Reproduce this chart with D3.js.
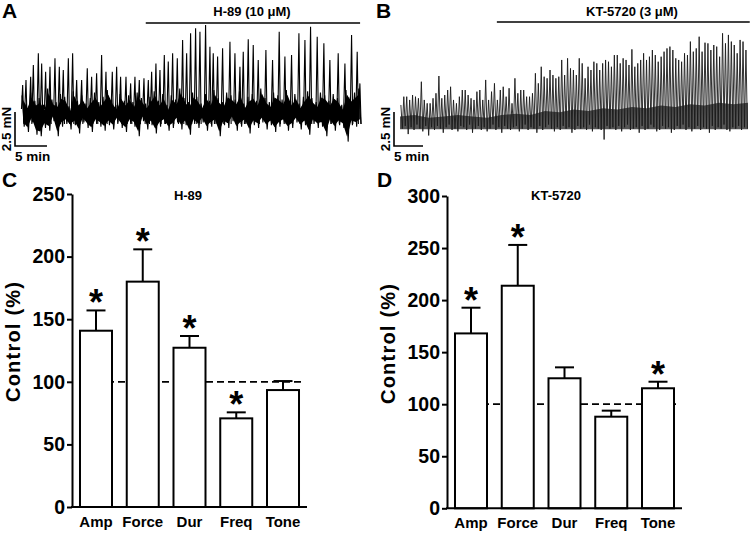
<!DOCTYPE html>
<html><head><meta charset="utf-8">
<script src="https://cdn.jsdelivr.net/npm/d3@7"></script>
<style>
body{margin:0;background:#fff}
svg{display:block}
text{font-family:"Liberation Sans",Arial,Helvetica,sans-serif;font-weight:bold;fill:#000}
</style>
</head><body>
<svg id="chart" width="750" height="533"></svg>
<script>
// ---------- bar chart data ----------
const categories = ["Amp","Force","Dur","Freq","Tone"];
const h89Mean = [140.8,180.0,127.2,70.8,93.4];
const h89Err  = [16.2,25.8,9.4,4.8,7.2];
const h89Sig  = [true,true,true,true,false];
const ktMean  = [168.0,213.8,124.9,88.0,115.3];
const ktErr   = [24.7,39.2,10.5,5.8,6.3];
const ktSig   = [true,true,false,false,true];
const h89Ticks = [0,50,100,150,200,250];
const ktTicks  = [0,50,100,150,200,250,300];
const controlLevel = 100;

// ---------- trace A (H-89), minutes / mN ----------
const durationA = 53.3;
const drugA = [19.5, 53.0];
const spikeTimeA = [0.26,0.78,1.51,1.93,2.71,3.23,3.85,4.53,5.31,5.99,6.61,7.40,8.07,8.70,9.48,10.36,11.04,11.82,12.60,13.28,14.27,14.95,15.57,16.41,17.14,17.81,18.49,19.22,19.90,20.42,21.09,21.72,22.40,23.02,23.70,24.43,25.26,25.89,26.51,27.29,27.97,28.85,29.53,30.05,30.73,31.51,32.66,33.44,34.22,34.74,35.52,36.30,37.08,38.28,39.32,40.36,41.25,42.29,43.44,44.38,45.26,46.30,47.34,48.28,49.58,50.63,51.67,52.55,52.97];
const spikeAmpA = [3.16,3.53,3.77,4.63,5.49,4.75,4.14,4.51,5.12,4.51,4.26,5.12,5.49,3.53,3.53,4.39,3.77,4.02,5.37,4.14,4.14,4.51,3.77,3.77,3.28,3.77,3.53,3.65,3.53,4.14,4.75,4.26,5.37,4.88,5.49,5.12,6.47,5.49,6.96,7.33,7.08,7.57,5.98,5.49,5.25,5.86,6.35,5.49,4.51,5.61,6.52,6.10,5.0,5.74,5.0,7.08,5.25,5.37,6.96,6.47,7.45,6.71,6.23,5.0,5.49,4.75,6.84,5.61,3.28];
const bandA = [2.4,0.1,1.8,-0.3,2.6,0.4,2.0,-0.5,2.2,-0.6,1.7,0.0,2.9,-0.2,2.1,0.5,1.9,-0.6,2.5,0.1,
 2.3,0.3,1.6,-0.1,2.7,0.2,2.0,-0.4,2.4,0.4,1.8,0.0,2.2,-0.3,2.6,0.3,1.9,0.1,2.3,-0.2,
 2.8,0.2,2.1,-0.1,1.7,0.4,2.5,0.0,2.0,-0.3,2.4,0.3,1.9,0.1,2.6,-0.6,2.2,0.5,1.8,-0.1,
 2.3,0.2,2.7,-0.4,2.0,0.1,2.5,0.3,1.7,-0.2,2.4,0.0,2.1,0.4,2.9,-0.1,2.2,0.2,1.9,-0.5,
 2.6,0.3,2.3,0.0,1.8,0.4,2.5,-0.2,2.0,0.1,2.8,0.3,2.2,-0.6,1.9,0.2,2.6,0.0,2.4,0.5,
 2.1,-0.2,2.7,0.1,1.8,0.3,2.3,-0.4,2.5,0.2,2.0,0.0,2.9,0.4,2.2,-0.1,1.9,0.2,2.6,-0.3,
 2.4,0.1,2.1,0.3,2.8,-0.2,2.0,0.0,2.5,0.4,1.8,-0.1,2.3,0.2,2.7,-0.5,2.2,0.3,1.9,0.0,
 2.6,0.1,2.4,-0.6,2.0,0.3,2.5,-0.2,2.2,0.2,1.7,0.0,2.8,-1.0,2.3,0.2,2.6,0.1,2.9,0.3];

// ---------- trace B (KT-5720), minutes / mN ----------
const durationB = 60;
const drugB = [16.7, 60.3];
const peaksB = [1.84,2.45,2.45,2.21,2.57,2.45,2.33,3.55,2.21,1.96,1.96,2.33,2.70,3.97,2.33,2.57,2.94,3.18,2.21,1.96,2.45,2.94,2.94,2.57,2.33,2.21,2.82,2.94,2.21,3.68,2.21,2.82,3.43,2.21,2.94,3.18,2.45,
 3.07,1.96,3.80,2.70,2.94,2.94,2.45,2.45,2.70,4.17,3.43,4.65,3.92,3.80,4.41,4.04,3.80,3.92,5.15,4.04,5.27,4.53,4.41,4.04,5.27,4.90,3.80,4.65,4.41,5.02,4.90,4.41,4.90,5.15,5.02,4.65,5.51,
 5.51,4.90,5.27,5.15,4.78,5.93,4.65,4.90,5.15,5.64,5.15,5.39,5.88,5.51,5.02,5.39,5.76,6.00,6.13,5.88,5.27,5.15,5.02,5.64,5.51,6.50,5.76,6.00,6.86,5.76,6.42,6.37,5.88,6.25,6.13,5.39,7.11,6.37,6.99,6.50,6.25,5.64,6.62,6.50,5.88];
const troughsB = [0.1,0.3,-0.3,0.2,0.0,0.4,0.1,-0.1,0.3,-0.4,0.2,0.0,0.3,0.1,-0.2,0.2,0.4,0.0,0.1,-0.1,
 0.3,0.2,0.0,0.4,-0.2,0.1,0.3,0.0,0.2,-0.1,0.1,0.4,0.0,0.2,-0.2,0.3,0.1,0.0,0.2,0.3,
 -0.1,0.1,0.4,0.0,0.2,0.1,-0.2,0.3,0.0,0.2,0.4,0.1,-0.1,0.2,0.0,0.3,0.1,0.2,-0.2,0.0,
 0.3,0.1,0.2,0.0,0.4,-0.1,0.2,0.1,0.0,-0.7,0.3,0.1,0.2,0.0,0.3,-0.1,0.2,0.4,0.0,0.1,
 0.2,-0.2,0.3,0.0,0.1,0.4,0.2,-0.1,0.0,0.3,0.1,0.2,-0.2,0.0,0.3,0.1,0.4,0.0,0.2,-0.1,
 0.1,0.3,0.0,0.2,0.1,-0.2,0.3,0.0,0.2,0.1,0.4,0.0,-0.1,0.2,0.1,0.3,0.0,0.2,0.1];
// top of the dense (dark) part of trace B, every 2.5 min
const bandTopB = [1.0,1.1,0.9,1.0,1.1,1.0,0.9,1.1,1.2,1.1,1.4,1.3,1.5,1.4,1.6,1.5,1.7,1.6,1.8,1.7,1.9,1.8,2.0,1.9,2.0];

const svg = d3.select("#chart");

// ---------- panel letters ----------
[["A",2,18],["B",376,18],["C",2,187],["D",377,187]].forEach(([t,x,y])=>{
  svg.append("text").attr("x",x).attr("y",y).style("font-size","21px").text(t);
});

// ---------- traces ----------
function traceFrame(g, cfg, x, y){
  g.append("line").attr("x1",x(cfg.drug[0])).attr("x2",x(cfg.drug[1]))
    .attr("y1",cfg.barY).attr("y2",cfg.barY).attr("stroke","#000").attr("stroke-width",1.6);
  g.append("text").attr("x",cfg.labelX).attr("y",16).attr("text-anchor","middle")
    .style("font-size","13px").text(cfg.label);
  const sx = cfg.sbX, sy = 146;
  const vLen = y(0)-y(2.5), hLen = x(5)-x(0);
  g.append("path").attr("fill","none").attr("stroke","#000").attr("stroke-width",1.6)
    .attr("d",`M${sx},${sy-vLen}V${sy}H${sx+hLen}`);
  g.append("text").attr("transform",`translate(${sx-4},${sy-vLen/2}) rotate(-90)`)
    .attr("text-anchor","middle").style("font-size","13.5px").text("2.5 mN");
  g.append("text").attr("x",sx).attr("y",161).style("font-size","13.5px").text("5 min");
}

// Trace A
{
  const g = svg.append("g");
  const x = d3.scaleLinear().domain([0,durationA]).range([21,362]);
  const y = d3.scaleLinear().domain([0,2.5]).range([128, 94]);
  const step = durationA/bandA.length;
  const pts = bandA.map((v,i)=>({t:(i+0.5)*step, v}));
  const pairs = d3.range(bandA.length/2).map(k=>({t:(2*k+1)*step, hi:bandA[2*k], lo:bandA[2*k+1]}));
  g.append("path").datum(pairs).attr("fill","#000")
    .attr("d", d3.area().x(d=>x(d.t)).y0(d=>y(d.lo+0.35)).y1(d=>y(d.hi-0.35)));
  g.append("path").datum(pts).attr("fill","none").attr("stroke","#000").attr("stroke-width",1.1)
    .attr("d", d3.line().x(d=>x(d.t)).y(d=>y(d.v)));
  g.append("g").selectAll("path").data(spikeTimeA).join("path")
    .attr("fill","none").attr("stroke","#000").attr("stroke-width",1.1)
    .attr("d",(t,i)=>`M${x(t)-1.2},${y(1.4)}L${x(t)},${y(spikeAmpA[i])}L${x(t)+1.2},${y(0.3)}`);
  traceFrame(g,{drug:drugA,barY:23,label:"H-89 (10 \u03bcM)",labelX:252,sbX:15},x,y);
}

// Trace B
{
  const g = svg.append("g");
  const x = d3.scaleLinear().domain([0,durationB]).range([400,748]);
  const y = d3.scaleLinear().domain([0,2.5]).range([130, 96]);
  const bstep = durationB/(bandTopB.length-1);
  g.append("path").datum(bandTopB).attr("fill","#555")
    .attr("d", d3.area().x((d,i)=>x(i*bstep)).y0(y(0.05)).y1(d=>y(d)));
  const dt = durationB/peaksB.length;
  const pts = peaksB.flatMap((p,i)=>[{t:(i+0.3)*dt, v:p},{t:(i+0.8)*dt, v:troughsB[i]}]);
  g.append("path").datum(pts).attr("fill","none").attr("stroke","#1a1a1a").attr("stroke-width",0.9)
    .attr("d", d3.line().x(d=>x(d.t)).y(d=>y(d.v)));
  traceFrame(g,{drug:drugB,barY:22,label:"KT-5720 (3 \u03bcM)",labelX:632,sbX:394},x,y);
}

// ---------- bar charts ----------
function drawBars(cfg){
  const g = svg.append("g");
  const x = d3.scaleBand().domain(categories).range([cfg.x0, cfg.x0+235])
    .paddingInner(0.3155).paddingOuter(0.171);
  const y = d3.scaleLinear().domain([0,cfg.max]).range([cfg.yBottom, cfg.yTop]);
  const bw = x.bandwidth();
  g.append("line").attr("x1",x("Amp")+bw/2).attr("x2",x("Tone")+bw+3)
    .attr("y1",y(controlLevel)).attr("y2",y(controlLevel))
    .attr("stroke","#000").attr("stroke-width",1.8).attr("stroke-dasharray","7,4");
  categories.forEach((c,i)=>{
    const cx = x(c)+bw/2, top = y(cfg.mean[i]+cfg.err[i]);
    g.append("line").attr("x1",cx).attr("x2",cx).attr("y1",y(cfg.mean[i])).attr("y2",top)
      .attr("stroke","#000").attr("stroke-width",2);
    g.append("line").attr("x1",cx-9.5).attr("x2",cx+9.5).attr("y1",top).attr("y2",top)
      .attr("stroke","#000").attr("stroke-width",2);
    if(cfg.sig[i]) g.append("text").attr("x",cx).attr("y",top+5).attr("text-anchor","middle")
      .style("font-size","36px").text("*");
  });
  g.selectAll("rect.bar").data(categories).join("rect").attr("class","bar")
    .attr("x",c=>x(c)).attr("width",bw)
    .attr("y",(c,i)=>y(cfg.mean[i])).attr("height",(c,i)=>y(0)-y(cfg.mean[i]))
    .attr("fill","#fff").attr("stroke","#000").attr("stroke-width",2);
  const ya = g.append("g").attr("transform",`translate(${cfg.x0},0)`)
    .call(d3.axisLeft(y).tickValues(cfg.ticks).tickSize(5).tickSizeOuter(0).tickPadding(2));
  ya.select(".domain").attr("stroke-width",2);
  ya.selectAll(".tick line").attr("stroke-width",2);
  ya.selectAll(".tick text").style("font-size","19.5px").style("font-family",null);
  const xa = g.append("g").attr("transform",`translate(0,${y(0)})`)
    .call(d3.axisBottom(x).tickSize(0).tickPadding(9.5));
  xa.select(".domain").attr("stroke-width",2).attr("d",`M${cfg.x0-1},0H${cfg.x0+235}`);
  xa.selectAll(".tick text").style("font-size","15px").style("font-family",null);
  g.append("text").attr("x",cfg.titleX).attr("y",200).attr("text-anchor","middle")
    .style("font-size","13px").text(cfg.title);
  g.append("text").attr("transform",`translate(${cfg.x0-52.5},${cfg.labelY}) rotate(-90)`)
    .attr("text-anchor","middle").attr("textLength",120).attr("lengthAdjust","spacing")
    .style("font-size","20px").text("Control (%)");
}
drawBars({x0:72, yTop:194, yBottom:507, max:250, ticks:h89Ticks, mean:h89Mean, err:h89Err, sig:h89Sig,
  title:"H-89", titleX:188, labelY:342});
drawBars({x0:447, yTop:196, yBottom:508.3, max:300, ticks:ktTicks, mean:ktMean, err:ktErr, sig:ktSig,
  title:"KT-5720", titleX:556, labelY:344});
</script>
</body></html>
